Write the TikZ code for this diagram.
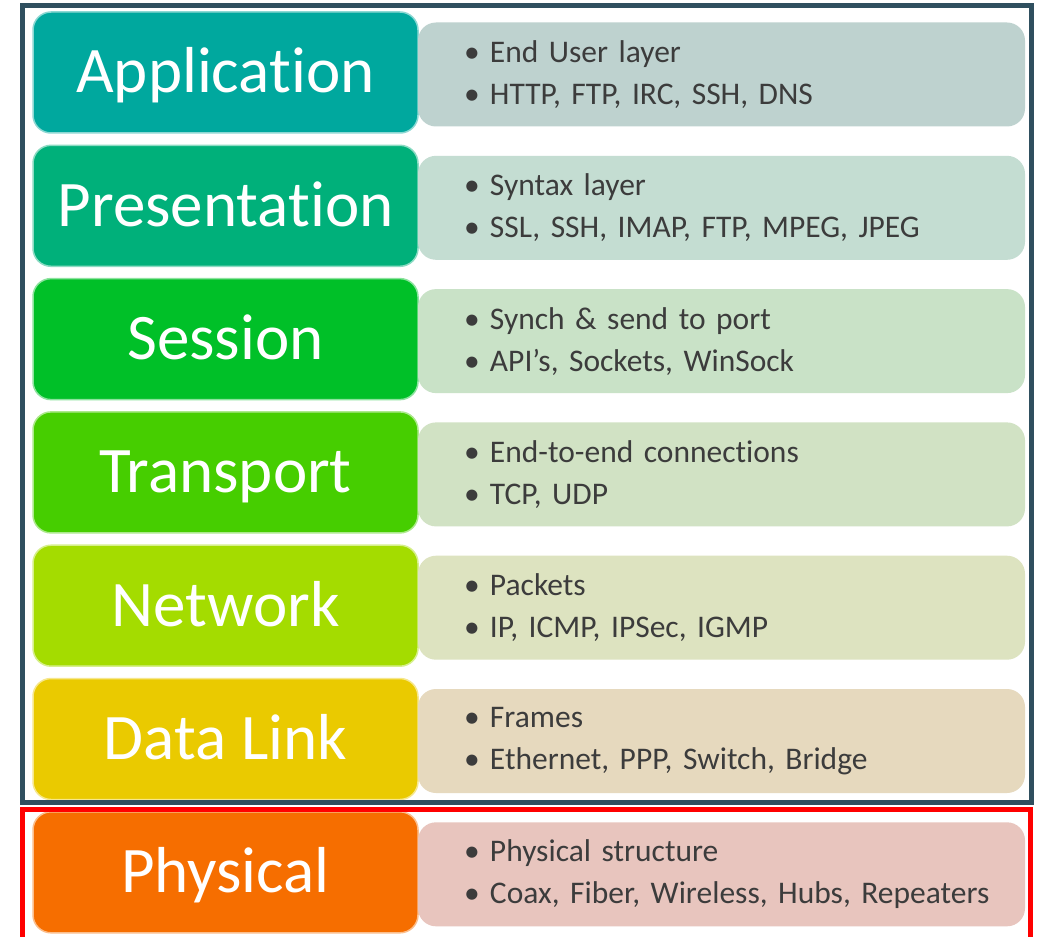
\documentclass[tikz,border=0pt]{standalone}
\usepackage{fontspec}
\setmainfont[Ligatures=NoCommon]{Carlito}
\definecolor{framedark}{RGB}{47,79,95}
\definecolor{framered}{RGB}{255,0,0}
\definecolor{txtdark}{RGB}{60,60,60}
\definecolor{appcol}{RGB}{0,168,158}
\definecolor{prescol}{RGB}{0,176,122}
\definecolor{sesscol}{RGB}{0,192,40}
\definecolor{transcol}{RGB}{70,206,0}
\definecolor{netcol}{RGB}{164,220,0}
\definecolor{linkcol}{RGB}{234,202,0}
\definecolor{physcol}{RGB}{246,110,0}
\definecolor{appbg}{RGB}{190,210,207}
\definecolor{presbg}{RGB}{196,221,210}
\definecolor{sessbg}{RGB}{201,226,199}
\definecolor{transbg}{RGB}{209,226,196}
\definecolor{netbg}{RGB}{221,227,192}
\definecolor{linkbg}{RGB}{230,217,190}
\definecolor{physbg}{RGB}{232,197,190}
\usetikzlibrary{positioning}
\tikzset{
node distance=12.3pt, % gap between two layers
layer/.style={rectangle, rounded corners=18pt, fill=#1, draw=#1!45!white, line width=1.5pt,
  minimum width=385pt, minimum height=121pt, outer sep=0pt, text=white,
  font=\fontsize{65}{70}\selectfont, text height=41pt, text depth=0pt}, % coloured layer name
desc/.style={rectangle, rounded corners=18pt, fill=#1, minimum width=607pt, minimum height=104pt,
  outer sep=0pt, inner xsep=18.5pt, text width=570pt, align=left, text=txtdark,
  font=\fontsize{31.5}{42}\selectfont, yshift=-2pt}, % grey box with the two bullets
}
\newcommand{\itm}[1]{\hspace*{27.5pt}\makebox[26pt][l]{\textbullet}#1}

\begin{document}
\begin{tikzpicture}[x=1pt, y=1pt]
      \useasboundingbox (0,0) rectangle (1040,-936);
      \fill[white] (0,0) rectangle (1040,-936);

      \node[layer=appcol] (app) at (225.5,-72.5) {Application};
      \node[layer=prescol, below=of app] (pres) {Presentation};
      \node[layer=sesscol, below=of pres] (sess) {Session};
      \node[layer=transcol, below=of sess] (trans) {Transport};
      \node[layer=netcol, below=of trans] (net) {Network};
      \node[layer=linkcol, below=of net] (link) {Data Link};
      \node[layer=physcol, below=of link] (phys) {Physical};

      \node[desc=appbg, right=0pt of app] (appd) {\itm{End User layer}\\ \itm{HTTP, FTP, IRC, SSH, DNS}};
      \node[desc=presbg, right=0pt of pres] (presd) {\itm{Syntax layer}\\ \itm{SSL, SSH, IMAP, FTP, MPEG, JPEG}};
      \node[desc=sessbg, right=0pt of sess] (sessd) {\itm{Synch \& send to port}\\ \itm{API’s, Sockets, WinSock}};
      \node[desc=transbg, right=0pt of trans] (transd) {\itm{End-to-end connections}\\ \itm{TCP, UDP}};
      \node[desc=netbg, right=0pt of net] (netd) {\itm{Packets}\\ \itm{IP, ICMP, IPSec, IGMP}};
      \node[desc=linkbg, right=0pt of link] (linkd) {\itm{Frames}\\ \itm{Ethernet, PPP, Switch, Bridge}};
      \node[desc=physbg, right=0pt of phys] (physd) {\itm{Physical structure}\\ \itm{Coax, Fiber, Wireless, Hubs, Repeaters}};

      % frames round the upper six layers and the physical layer
      \draw[framedark, line width=5pt] (22,-5.5) rectangle (1031.5,-802);
      \draw[framered, line width=5pt] (22,-809) rectangle (1030,-950);
    \end{tikzpicture}
\end{document}
